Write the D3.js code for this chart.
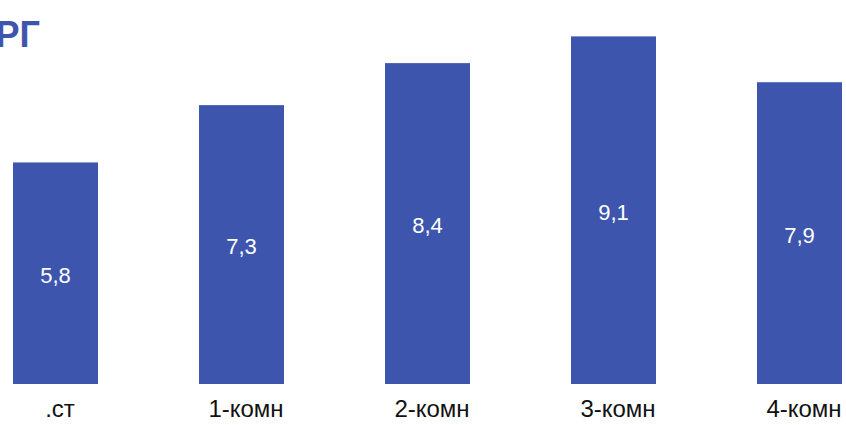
<!DOCTYPE html>
<html>
<head>
<meta charset="utf-8">
<script src="https://cdn.jsdelivr.net/npm/d3@7"></script>
<style>
  html, body { margin: 0; padding: 0; background: #ffffff; }
  svg { display: block; font-family: "Liberation Sans", Arial, sans-serif; }
</style>
</head>
<body>
<svg id="chart" width="846" height="425"></svg>
<script>
// Apartment types and their values
const categories = [".ст", "1-комн", "2-комн", "3-комн", "4-комн"];
const values = [5.8, 7.3, 8.4, 9.1, 7.9];
const titleText = "РГ";

const barColor = "#3D55AD";
const svg = d3.select("#chart");

// Plot area
const baseY = 384;
const x = d3.scaleBand()
  .domain(categories)
  .range([13, 842])
  .paddingInner(0.543)
  .paddingOuter(0);

const y = d3.scaleLinear()
  .domain([0, 10])
  .range([baseY, baseY - 382]);

// Title (runs off the left edge)
svg.append("text")
  .attr("x", 40)
  .attr("y", 47)
  .attr("text-anchor", "end")
  .attr("font-size", 36)
  .attr("font-weight", "bold")
  .attr("fill", barColor)
  .text(titleText);

const data = categories.map((c, i) => ({ c, v: values[i] }));

// Bars
svg.append("g").selectAll("rect")
  .data(data)
  .join("rect")
  .attr("x", d => x(d.c))
  .attr("y", d => y(d.v))
  .attr("width", x.bandwidth())
  .attr("height", d => y(0) - y(d.v))
  .attr("fill", barColor);

// Value labels centered inside each bar
svg.append("g").selectAll("text")
  .data(data)
  .join("text")
  .attr("x", d => x(d.c) + x.bandwidth() / 2)
  .attr("y", d => (y(d.v) + y(0)) / 2)
  .attr("dy", "0.45em")
  .attr("text-anchor", "middle")
  .attr("font-size", 22)
  .attr("fill", "#ffffff")
  .text(d => String(d.v).replace(".", ","));

// Category axis labels
const xAxis = d3.axisBottom(x).tickSize(0).tickPadding(16);
const gx = svg.append("g")
  .attr("transform", `translate(4.5,${baseY})`)
  .call(xAxis);
gx.select(".domain").remove();
gx.selectAll("text")
  .attr("font-size", 24)
  .attr("font-family", "Liberation Sans, Arial, sans-serif")
  .attr("fill", "#111111");
</script>
</body>
</html>
